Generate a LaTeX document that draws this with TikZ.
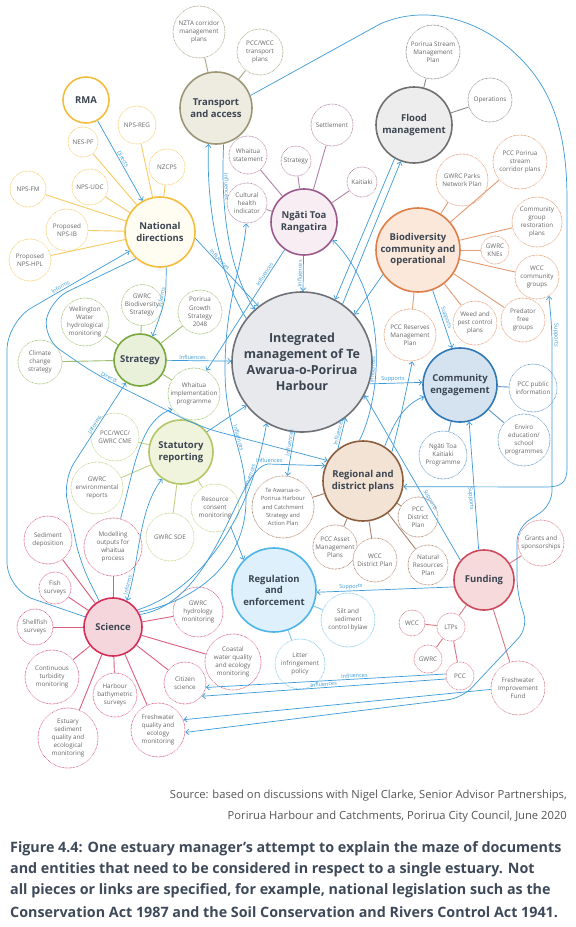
\documentclass[tikz,border=0pt]{standalone}
\usepackage{fontspec}
\setmainfont{Open Sans}
\usetikzlibrary{arrows.meta}
\definecolor{connC}{HTML}{3B9AD8}
\definecolor{hubT}{HTML}{3C4652}
\definecolor{satT}{HTML}{666666}
\definecolor{yelC}{HTML}{F4BD3C}
\definecolor{yelL}{HTML}{F6CB62}
\definecolor{yelF}{HTML}{FFFCF2}
\definecolor{oliC}{HTML}{9C9676}
\definecolor{oliL}{HTML}{ABA584}
\definecolor{oliF}{HTML}{EEEBE1}
\definecolor{grC}{HTML}{707070}
\definecolor{grL}{HTML}{8A8A8A}
\definecolor{grF}{HTML}{EDEDED}
\definecolor{puC}{HTML}{9C5A8C}
\definecolor{puL}{HTML}{B283A6}
\definecolor{puF}{HTML}{F8EDF3}
\definecolor{orC}{HTML}{DF7E48}
\definecolor{orL}{HTML}{E49A72}
\definecolor{orF}{HTML}{FBE8DB}
\definecolor{dbC}{HTML}{2F77B5}
\definecolor{dbL}{HTML}{5C95C8}
\definecolor{dbF}{HTML}{D5E3F1}
\definecolor{igC}{HTML}{6E7278}
\definecolor{igF}{HTML}{E7E9EC}
\definecolor{gnC}{HTML}{78A83D}
\definecolor{gnL}{HTML}{9DBE6E}
\definecolor{gnF}{HTML}{E9F1DB}
\definecolor{lgC}{HTML}{B2C667}
\definecolor{lgL}{HTML}{C2D285}
\definecolor{lgF}{HTML}{F0F4DD}
\definecolor{brC}{HTML}{8C5E3E}
\definecolor{brL}{HTML}{A98068}
\definecolor{brF}{HTML}{F2E3D5}
\definecolor{lbC}{HTML}{4CB4E6}
\definecolor{lbL}{HTML}{7CC8EE}
\definecolor{lbF}{HTML}{DEF0FB}
\definecolor{pkC}{HTML}{CD4A5C}
\definecolor{pkL}{HTML}{D97684}
\definecolor{pkF}{HTML}{F7DBDC}
\definecolor{rdC}{HTML}{D42D57}
\definecolor{rdL}{HTML}{DC5E7E}
\definecolor{rdF}{HTML}{F6D6DD}
\definecolor{capC}{HTML}{3E4A5A}
\definecolor{srcC}{HTML}{555555}
\tikzset{
 hub/.style={circle, line width=1.6pt, inner sep=0pt, align=center, text=hubT, font=\fontsize{9.5}{11.5}\selectfont\bfseries},
 sat/.style={circle, line width=0.95pt, dash pattern=on 0.01pt off 1.4pt, line cap=round, fill=white, inner sep=0pt, align=center, text=satT, font=\fontsize{6.3}{8.2}\selectfont},
 sline/.style={line width=0.9pt},
 conn/.style={draw=connC, line width=0.7pt, ->},
 lbl/.style={font=\fontsize{5.5}{6}\selectfont, text=connC, inner sep=1pt, sloped},
}
\newcommand{\Hub}[6]{\node[hub, draw=#4, fill=#5, minimum size={2*#3}] (#1) at (#2) {#6};}
\newcommand{\Sat}[5]{\node[sat, draw=#4, minimum size={2*#3}] (#1) at (#2) {#5};}
\begin{document}
\begin{tikzpicture}[x=1pt,y=-1pt, >={Straight Barb[length=3pt,width=5.5pt]}]
\useasboundingbox (0,0) rectangle (576,927);
\fill[white] (0,0) rectangle (576,927);
% ---------- hubs
\Hub{rma}{86,100}{23}{yelC}{white}{RMA}
\Hub{national}{160,232}{35}{yelC}{yelF}{National\\directions}
\Hub{transport}{216,108}{36}{oliC}{oliF}{Transport\\and access}
\Hub{flood}{414,125}{38}{grC}{grF}{Flood\\management}
\Hub{ngati}{304,222}{33}{puC}{puF}{Ngāti Toa\\Rangatira}
\Hub{bio}{418,250}{42}{orC}{orF}{Biodiversity\\community and\\operational}
\node[hub, draw=igC, fill=igF, minimum size=140, font=\fontsize{12.5}{16}\selectfont\bfseries] (integ) at (302,362) {Integrated\\management of Te\\Awarua-o-Porirua\\Harbour};
\Hub{strategy}{140,360}{26}{gnC}{gnF}{Strategy}
\Hub{community}{460,385}{37}{dbC}{dbF}{Community\\engagement}
\Hub{statutory}{181,452}{32}{lgC}{lgF}{Statutory\\reporting}
\Hub{regional}{363,481}{40}{brC}{brF}{Regional and\\district plans}
\Hub{regulation}{274,590}{42}{lbC}{lbF}{Regulation\\and\\enforcement}
\Hub{funding}{484,580}{30}{pkC}{pkF}{Funding}
\Hub{science}{113,627}{29}{rdC}{rdF}{Science}
% ---------- satellites
\Sat{nzta}{199,32}{26}{oliL}{NZTA corridor\\management\\plans}
\Sat{pccwcct}{260,52}{23}{oliL}{PCC/WCC\\transport\\plans}
\Sat{nesf}{83,142}{15}{yelL}{NES-PF}
\Sat{npsreg}{137,125}{19}{yelL}{NPS-REG}
\Sat{nzcps}{167,167}{18}{yelL}{NZCPS}
\Sat{npsudc}{90,187}{18}{yelL}{NPS-UDC}
\Sat{npsfm}{28,189}{18}{yelL}{NPS-FM}
\Sat{npsib}{67,230}{21}{yelL}{Proposed\\NPS-IB}
\Sat{npshpl}{30,260}{21}{yelL}{Proposed\\NPS-HPL}
\Sat{porstream}{433,52}{27}{grL}{Porirua Stream\\Management\\Plan}
\Sat{operations}{490,100}{22}{grL}{Operations}
\Sat{settlement}{332,125}{21}{puL}{Settlement}
\Sat{whstate}{248,155}{19}{puL}{Whaitua\\statement}
\Sat{ntstrategy}{296,161}{15}{puL}{Strategy}
\Sat{kaitiaki}{362,182}{15}{puL}{Kaitiaki}
\Sat{cultural}{247,203}{20}{puL}{Cultural\\health\\indicator}
\Sat{gwrcparks}{462,180}{26}{orL}{GWRC Parks\\Network Plan}
\Sat{pccporirua}{520,162}{27}{orL}{PCC Porirua\\stream\\corridor plans}
\Sat{commgroup}{537,222}{25}{orL}{Community\\group\\restoration\\plans}
\Sat{knes}{495,250}{14}{orL}{GWRC\\KNEs}
\Sat{wcccomm}{537,277}{22}{orL}{WCC\\community\\groups}
\Sat{predator}{523,320}{22}{orL}{Predator\\free\\groups}
\Sat{weed}{475,323}{22}{orL}{Weed and\\pest control\\plans}
\Sat{pccreserves}{410,335}{26}{orL}{PCC Reserves\\Management\\Plan}
\Sat{pccpublic}{533,388}{24}{dbL}{PCC public\\information}
\Sat{enviro}{524,440}{26}{dbL}{Enviro\\education/\\school\\programmes}
\Sat{ntkaitiaki}{443,455}{24}{dbL}{Ngāti Toa\\Kaitiaki\\Programme}
\Sat{wellington}{85,322}{24}{gnL}{Wellington\\Water\\hydrological\\monitoring}
\Sat{gwrcbio}{142,305}{20}{gnL}{GWRC\\Biodiversity\\Strategy}
\Sat{porgrowth}{200,312}{22}{gnL}{Porirua\\Growth\\Strategy\\2048}
\Sat{climate}{40,362}{22}{gnL}{Climate\\change\\strategy}
\Sat{whimpl}{194,394}{26}{gnL}{Whaitua\\implementation\\programme}
\Sat{pcccme}{115,437}{24}{lgL}{PCC/WCC/\\GWRC CME}
\Sat{gwrcenv}{97,488}{26}{lgL}{GWRC\\environmental\\reports}
\Sat{resource}{215,508}{24}{lgL}{Resource\\consent\\monitoring}
\Sat{gwrcsoe}{170,537}{24}{lgL}{GWRC SOE}
\Sat{sediment}{48,540}{24}{rdL}{Sediment\\deposition}
\Sat{modelling}{113,547}{29}{rdL}{Modelling\\outputs for\\whaitua\\process}
\Sat{teawarua}{283,507}{31}{brL}{\fontsize{5.8}{7.6}\selectfont Te Awarua-o-\\\fontsize{5.8}{7.6}\selectfont Porirua Harbour\\\fontsize{5.8}{7.6}\selectfont and Catchment\\\fontsize{5.8}{7.6}\selectfont Strategy and\\\fontsize{5.8}{7.6}\selectfont Action Plan}
\Sat{pccasset}{335,547}{22}{brL}{PCC Asset\\Management\\Plans}
\Sat{wccdp}{375,560}{22}{brL}{WCC\\District Plan}
\Sat{natres}{428,565}{20}{brL}{Natural\\Resources\\Plan}
\Sat{pccdp}{418,517}{20}{brL}{PCC\\District\\Plan}
\Sat{silt}{348,620}{27}{lbL}{Silt and\\sediment\\control bylaw}
\Sat{litter}{300,664}{25}{lbL}{Litter\\infringement\\policy}
\Sat{grants}{541,543}{23}{pkL}{Grants and\\sponsorships}
\Sat{wcc}{412,623}{13}{pkL}{WCC}
\Sat{ltps}{451,627}{14}{pkL}{LTPs}
\Sat{gwrc}{428,659}{14}{pkL}{GWRC}
\Sat{pcc}{460,676}{14}{pkL}{PCC}
\Sat{fif}{518,688}{27}{pkL}{Freshwater\\Improvement\\Fund}
\Sat{fish}{55,588}{16}{rdL}{Fish\\surveys}
\Sat{shellfish}{35,627}{18}{rdL}{Shellfish\\surveys}
\Sat{turbidity}{52,677}{27}{rdL}{Continuous\\turbidity\\monitoring}
\Sat{harbour}{115,695}{22}{rdL}{Harbour\\bathymetric\\surveys}
\Sat{estuary}{68,738}{30}{rdL}{Estuary\\sediment\\quality and\\ecological\\monitoring}
\Sat{freshwater}{158,730}{27}{rdL}{Freshwater\\quality and\\ecology\\monitoring}
\Sat{citizen}{185,683}{21}{rdL}{Citizen\\science}
\Sat{gwrchydro}{198,612}{25}{rdL}{GWRC\\hydrology\\monitoring}
\Sat{coastal}{233,662}{28}{rdL}{Coastal\\water quality\\and ecology\\monitoring}
% ---------- hub-satellite links
\foreach \s in {npsfm,npsudc,nesf,npsreg,nzcps,npsib,npshpl} \draw[sline,yelL] (national) -- (\s);
\foreach \s in {nzta,pccwcct} \draw[sline,oliL] (transport) -- (\s);
\foreach \s in {porstream,operations} \draw[sline,grL] (flood) -- (\s);
\foreach \s in {whstate,ntstrategy,settlement,kaitiaki,cultural} \draw[sline,puL] (ngati) -- (\s);
\foreach \s in {gwrcparks,pccporirua,commgroup,knes,wcccomm,predator,weed,pccreserves} \draw[sline,orL] (bio) -- (\s);
\foreach \s in {pccpublic,enviro,ntkaitiaki} \draw[sline,dbL] (community) -- (\s);
\foreach \s in {wellington,gwrcbio,porgrowth,climate,whimpl} \draw[sline,gnL] (strategy) -- (\s);
\foreach \s in {pcccme,gwrcenv,gwrcsoe,resource} \draw[sline,lgL] (statutory) -- (\s);
\foreach \s in {teawarua,pccasset,wccdp,natres,pccdp} \draw[sline,brL] (regional) -- (\s);
\foreach \s in {silt,litter} \draw[sline,lbL] (regulation) -- (\s);
\foreach \s in {ltps,fif,grants} \draw[sline,pkL] (funding) -- (\s);
\foreach \s in {wcc,gwrc,pcc} \draw[sline,pkL] (ltps) -- (\s);
\foreach \s in {sediment,modelling,fish,shellfish,turbidity,estuary,harbour,freshwater,citizen,coastal,gwrchydro} \draw[sline,rdL] (science) -- (\s);
% ---------- blue connectors
\draw[conn] (rma) -- node[lbl,above]{Directs} (national);
\draw[conn] (national.280) .. controls (166,300) .. node[lbl,above,pos=0.45]{Informs} (strategy.62);
\draw[conn, rounded corners=28pt] (science.160) -- (7,590) -- (7,322) -- node[lbl,above,pos=0.45]{Informs} (national.212);
\draw[conn, rounded corners=20pt] (national.228) -- (50,300) -- (43,338) -- (95,374) -- node[lbl,above,pos=0.12]{Directs} (200,427) -- (regional.150);
\draw[conn] (strategy) -- node[lbl,above,pos=0.4]{Influences} (integ);
\draw[conn, rounded corners=20pt] (science.118) -- (80,562) -- (63,480) -- node[lbl,above,pos=0.55]{Informs} (strategy.238);
\draw[conn] (modelling.75) .. controls (135,465) and (140,420) .. (whimpl.215);
\draw[conn,<->] (science.62) .. controls (140,560) and (138,510) .. node[lbl,above,pos=0.12]{Informs} (statutory.235);
\draw[conn] (statutory.38) -- (integ.218);
\draw[conn] (science.35) .. controls (200,590) and (250,520) .. node[lbl,above,pos=0.8]{Influences} (integ.240);
\draw[conn] (science.25) .. controls (218,602) and (236,468) .. (268,464) -- node[lbl,above,pos=0.02]{Influences} (regional.158);
\draw[conn] (science.30) .. controls (200,600) and (246,560) .. (246,500) .. controls (246,450) and (225,430) .. node[lbl,above,pos=0.5]{Influences} (225,370) .. controls (225,300) and (243,265) .. (cultural.268);
\draw[conn] (resource.-50) -- (regulation.135);
\draw[conn] (ngati.235) -- node[lbl,above,pos=0.22]{Influences} (whimpl.62);
\draw[conn] (national.-10) -- node[lbl,above,pos=0.35]{Influences} (integ.128);
\draw[conn] (ngati) -- node[lbl,above]{Influences} (integ);
\draw[conn] (integ.142) .. controls (228,290) and (206,230) .. (transport.258);
\draw[conn] (transport.282) .. controls (220,220) and (232,275) .. node[lbl,above,pos=0.2]{Influences} (integ.132);
\draw[conn] (transport.20) -- (380,24) .. controls (425,4) and (480,18) .. (520,58) .. controls (556,94) and (567,140) .. (567,200) -- (567,468) .. controls (567,484) and (560,487) .. (545,487) -- (regional.-8);
\draw[conn] (integ.55) -- (flood.250);
\draw[conn] (flood.240) -- (integ.62);
\draw[conn] (regional.95) .. controls (380,400) and (392,300) .. node[lbl,above,pos=0.4]{Influences} (ngati.-32);
\draw[conn] (bio.215) -- (integ.42);
\draw[conn] (bio.-70) -- node[lbl,above,pos=0.5]{Supports} (community.102);
\draw[conn] (integ.-18) -- node[lbl,above,pos=0.45]{Supports} (community.176);
\draw[conn] (regional.58) .. controls (395,420) and (405,404) .. (community.198);
\draw[conn] (regional.45) .. controls (400,420) .. (pccreserves.-85);
\draw[conn] (integ.-96) -- node[lbl,above,pos=0.25]{Influences} (teawarua.82);
\draw[conn] (regional.128) -- node[lbl,above]{Influences} (integ.-52);
\draw[conn] (funding.100) -- node[lbl,below,pos=0.4]{Supports} (community.-76);
\draw[conn] (funding.140) -- node[lbl,above,pos=0.35]{Supports} (integ.-28);
\draw[conn] (funding.193) -- node[lbl,above,pos=0.75]{Supports} (regulation.-3);
\draw[conn,<->, rounded corners=14pt] (wcccomm.-58) -- (552,330) -- node[lbl,above,pos=0.03]{Supports} (552,505) -- (517,528) -- (517,592) -- (528,628) -- (462,698) -- (freshwater.-5);
\draw[conn] (pcc.172) -- node[lbl,above,pos=0.38]{Influences} (citizen.-12);
\draw[conn] (pcc.192) -- node[lbl,above,pos=0.5]{Influences} (citizen.-38);
\draw[conn] (fif.183) -- (freshwater.22);
% ---------- source and caption
\node[anchor=east, font=\fontsize{11.2}{13}\selectfont, text=srcC, inner sep=0] (src1) at (567,796) {Source: based on discussions with Nigel Clarke, Senior Advisor Partnerships,};
\node[anchor=east, font=\fontsize{11.2}{13}\selectfont, text=srcC, inner sep=0] (src2) at (567,817) {Porirua Harbour and Catchments, Porirua City Council, June 2020};
\begin{scope}[every node/.style={anchor=west, inner sep=0, text=capC, font=\fontsize{14.3}{16}\selectfont\bfseries}]
\node (cap1) at (10,849) {Figure 4.4: One estuary manager’s attempt to explain the maze of documents};
\node (cap2) at (10,870) {and entities that need to be considered in respect to a single estuary. Not};
\node (cap3) at (10,891) {all pieces or links are specified, for example, national legislation such as the};
\node (cap4) at (10,912) {Conservation Act 1987 and the Soil Conservation and Rivers Control Act 1941.};
\end{scope}
\end{tikzpicture}
\end{document}
